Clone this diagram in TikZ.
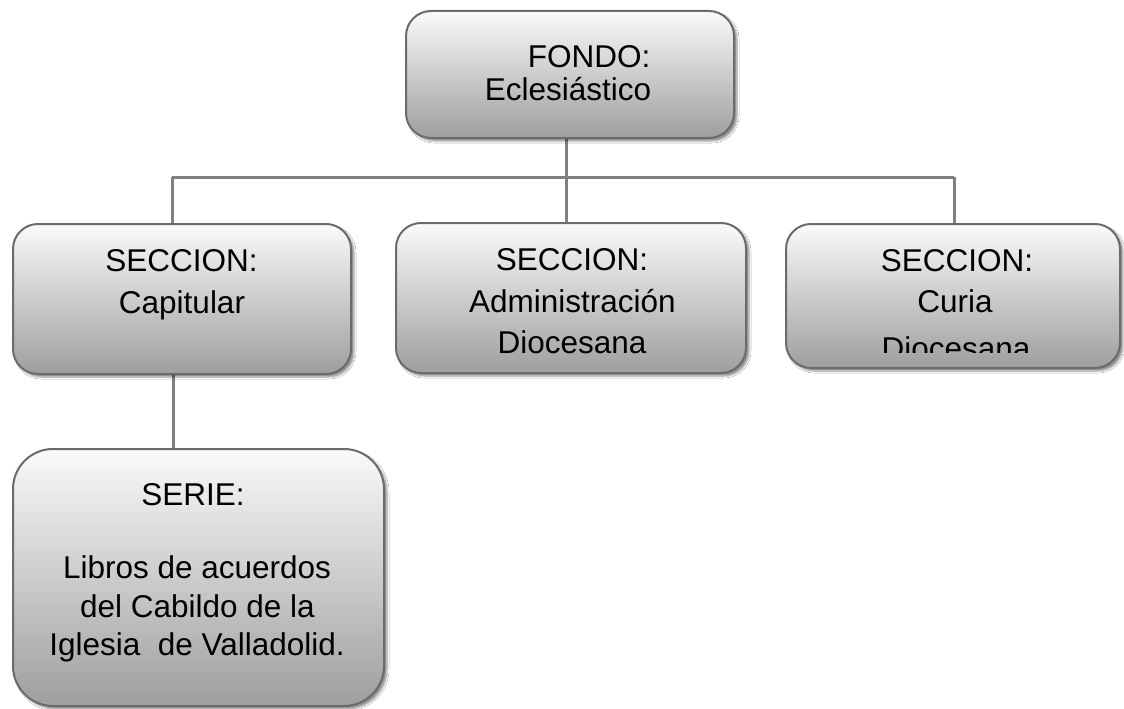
\documentclass[tikz,border=0pt]{standalone}
\usepackage{fontspec}
\setmainfont{Liberation Sans}
\usetikzlibrary{shadows.blur}
\begin{document}
\begin{tikzpicture}[x=1pt,y=-1pt,
  box/.style={draw=black!58, line width=2pt, rectangle, rounded corners=#1,
    top color=black!2, bottom color=black!38, anchor=north west, inner sep=0pt,
    blur shadow={shadow xshift=3pt, shadow yshift=-3pt, shadow blur radius=2pt, shadow opacity=45}},
  box/.default=25pt,
  conn/.style={draw=black!50, line width=3pt},
  txt/.style={anchor=base, inner sep=0pt, font=\fontsize{31.5}{37}\selectfont, text=black}]
\useasboundingbox (0,0) rectangle (1124,709);
\fill[white] (0,0) rectangle (1124,709);
% connectors (drawn first)
\coordinate (busL) at (172,177);
\coordinate (busR) at (954,177);
\coordinate (fondoB) at (566,137);
\coordinate (capB) at (173,372);
\draw[conn] (busL) -- (busR);
\draw[conn] (fondoB) -- (566,223);
\draw[conn] (busL) -- (172,224);
\draw[conn] (busR) -- (954,224);
\draw[conn] (capB) -- (173,449);
% boxes
\node[box, minimum width=328pt, minimum height=127pt] (fondo) at (405,10) {};
\node[box, minimum width=338pt, minimum height=150pt] (cap) at (12,223) {};
\node[box, minimum width=350pt, minimum height=150pt] (adm) at (395,222) {};
\node[box, minimum width=334pt, minimum height=144pt] (cur) at (785,223) {};
\node[box=40pt, minimum width=371pt, minimum height=257pt] (serie) at (12,448) {};
% texts
\node[txt] (t1) at (589,67) {FONDO:};
\node[txt] (t2) at (568,100) {Eclesiástico};
\node[txt] (t3) at (181.5,271) {SECCION:};
\node[txt] (t4) at (182,313) {Capitular};
\node[txt] (t5) at (572,270) {SECCION:};
\node[txt] (t6) at (572.5,312) {Administración};
\node[txt] (t7) at (572,353) {Diocesana};
\node[txt] (t8) at (957,271) {SECCION:};
\node[txt] (t9) at (955,312) {Curia};
\begin{scope}
\clip (785,223) rectangle (1119,352);
\node[txt] (t10) at (956,359) {Diocesana};
\end{scope}
\node[txt] (t11) at (193,505) {SERIE:};
\node[txt] (t12) at (197,578) {Libros de acuerdos};
\node[txt] (t13) at (197.5,617) {del Cabildo de la};
\node[txt] (t14) at (197,655) {Iglesia\ \ de Valladolid.};
\end{tikzpicture}
\end{document}
